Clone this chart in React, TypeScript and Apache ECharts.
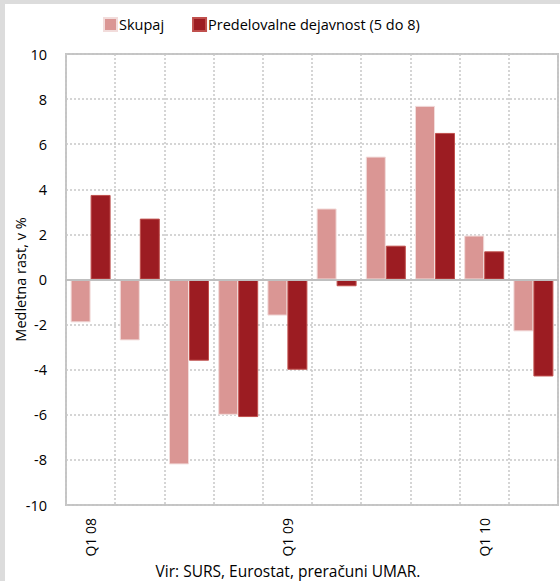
import React, { useEffect, useRef } from "react";
import * as echarts from "echarts";

const categories = ["Q1 08", "Q2 08", "Q3 08", "Q4 08", "Q1 09", "Q2 09", "Q3 09", "Q4 09", "Q1 10", "Q2 10"];
const skupaj = [-1.9, -2.7, -8.2, -6.0, -1.6, 3.15, 5.45, 7.7, 1.95, -2.3];
const predelovalne = [3.75, 2.7, -3.6, -6.1, -4.0, -0.3, 1.5, 6.5, 1.25, -4.3];
const seriesNames = ["Skupaj", "Predelovalne dejavnost (5 do 8)"];
const yAxisTitle = "Medletna rast, v %";
const sourceNote = "Vir: SURS, Eurostat, preračuni UMAR.";

const FONT = "Open Sans";

export default function App() {
  const ref = useRef<HTMLDivElement>(null);
  useEffect(() => {
    if (!ref.current) return;
    const chart = echarts.init(ref.current, null, { renderer: "svg" });
    chart.setOption({
      animation: false,
      backgroundColor: "#ffffff",
      textStyle: { fontFamily: FONT, color: "#000" },
      legend: {
        top: 12,
        left: 98,
        itemWidth: 13,
        itemHeight: 13,
        itemGap: 28,
        icon: "rect",
        textStyle: { fontFamily: FONT, fontSize: 14.5, color: "#000", padding: [0, 0, 0, -3] },
        data: seriesNames,
      },
      grid: {
        left: 66,
        right: 2,
        top: 54,
        bottom: 76,
        outerBoundsMode: "none",
        containLabel: false,
        show: true,
        borderColor: "#c4c4c4",
        borderWidth: 2,
        backgroundColor: "#fff",
      },
      xAxis: {
        type: "category",
        data: categories,
        z: 3,
        axisLine: { onZero: true, lineStyle: { color: "#bfbfbf", width: 2 } },
        axisTick: { show: false },
        axisLabel: {
          interval: 3,
          rotate: 90,
          fontFamily: FONT,
          fontSize: 14,
          color: "#000",
          margin: 13,
        },
        splitLine: {
          show: true,
          interval: 0,
          lineStyle: { color: "#c8c8c8", type: [2, 2], width: 1.5 },
        },
      },
      yAxis: {
        type: "value",
        min: -10,
        max: 10,
        interval: 2,
        name: yAxisTitle,
        nameLocation: "middle",
        nameRotate: 90,
        nameGap: 38,
        nameMoveOverlap: false,
        nameTextStyle: { fontFamily: FONT, fontSize: 14.5, color: "#000" },
        axisLine: { show: false },
        axisTick: { show: false },
        axisLabel: { fontFamily: FONT, fontSize: 14.5, color: "#000", margin: 19 },
        splitLine: { lineStyle: { color: "#c8c8c8", type: [2, 2], width: 1.5 } },
      },
      series: [
        {
          name: seriesNames[0],
          type: "bar",
          data: skupaj,
          barWidth: 20,
          barGap: "0%",
          itemStyle: { color: "#da9694", borderColor: "#f2dcdb", borderWidth: 1 },
        },
        {
          name: seriesNames[1],
          type: "bar",
          data: predelovalne,
          barWidth: 20,
          barGap: "0%",
          itemStyle: { color: "#9c1c22", borderColor: "#c0504d", borderWidth: 1 },
        },
      ],
      graphic: [
        { type: "rect", left: 0, top: 0, shape: { width: 560, height: 4 }, style: { fill: "#dcdcdc" }, silent: true },
        { type: "rect", left: 0, top: 0, shape: { width: 5, height: 581 }, style: { fill: "#dcdcdc" }, silent: true },
        {
          type: "text",
          x: 288,
          y: 571,
          style: {
            text: sourceNote,
            fontFamily: FONT,
            fontSize: 15.5,
            fill: "#000",
            textAlign: "center",
            textVerticalAlign: "middle",
          },
        },
      ],
    });
    return () => chart.dispose();
  }, []);
  return (
    <div
      ref={ref}
      style={{ position: "fixed", left: 0, top: 0, width: 560, height: 581 }}
    />
  );
}
